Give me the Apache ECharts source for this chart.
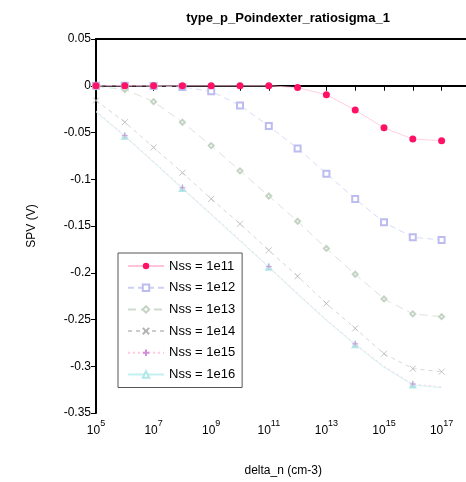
<!DOCTYPE html>
<html><head><meta charset="utf-8">
<script src="https://cdn.jsdelivr.net/npm/echarts@6/dist/echarts.min.js"></script>
<style>html,body{margin:0;padding:0;background:#fff}#c{width:466px;height:482px}</style>
</head><body><div id="c"></div>
<script>
var exponents = [5,6,7,8,9,10,11,12,13,14,15,16,17];
var seriesNames = ['Nss = 1e11','Nss = 1e12','Nss = 1e13','Nss = 1e14','Nss = 1e15','Nss = 1e16'];
var s1e11 = [0,0,0,0,0,0,0,-0.002,-0.0096,-0.026,-0.045,-0.057,-0.0587];
var s1e12 = [0,0,-0.0003,-0.0013,-0.006,-0.021,-0.043,-0.067,-0.094,-0.121,-0.146,-0.162,-0.165];
var s1e13 = [-0.0008,-0.004,-0.017,-0.039,-0.064,-0.091,-0.118,-0.145,-0.174,-0.2016,-0.228,-0.244,-0.247];
var s1e14 = [-0.0157,-0.039,-0.066,-0.093,-0.121,-0.1476,-0.176,-0.2037,-0.2329,-0.2595,-0.2866,-0.3026,-0.3058];
var s1e15 = [-0.027,-0.0533,-0.081,-0.109,-0.137,-0.165,-0.1934,-0.222,-0.250,-0.276,-0.300,-0.319,-0.322];
var s1e16 = [-0.028,-0.054,-0.082,-0.110,-0.138,-0.166,-0.194,-0.223,-0.251,-0.277,-0.301,-0.320,-0.323];
var yTicks = {min: -0.35, max: 0.05, step: 0.05};
var sparseMarkerIdx = [1,3,6,9,11];

var FONT = 'Liberation Sans, Arial, sans-serif';
function pts(arr, sparse) {
  return arr.map(function (v, i) {
    var item = {value: [Math.pow(10, exponents[i]), v]};
    if (sparse && sparseMarkerIdx.indexOf(i) < 0) item.symbol = 'none';
    return item;
  });
}
function mk(name, arr, opt) {
  return {
    name: name, type: 'line', data: pts(arr, opt.sparse),
    symbol: opt.symbol, symbolSize: opt.size, showSymbol: true,
    lineStyle: {color: opt.line, width: 0.8, type: opt.dash},
    itemStyle: opt.item,
    emphasis: {disabled: true}, animation: false, z: opt.z || 2
  };
}
var series = [
  mk(seriesNames[0], s1e11, {symbol: 'circle', size: 7, line: '#ffc4da', dash: 'solid', item: {color: '#ff1166'}, z: 5}),
  mk(seriesNames[1], s1e12, {symbol: 'emptyRect', size: 6, line: '#cfcff6', dash: [6,4], item: {color: '#bcbcf0', borderColor: '#bcbcf0', borderWidth: 0.8}}),
  mk(seriesNames[2], s1e13, {symbol: 'emptyDiamond', size: 5, line: '#d0dcd0', dash: [8,5], item: {color: '#c4d4c4', borderColor: '#c4d4c4', borderWidth: 0.8}}),
  mk(seriesNames[3], s1e14, {symbol: 'path://M0,0L10,10M10,0L0,10', size: 6, line: '#cccccc', dash: [4,4], item: {color: '#fff', borderColor: '#b4b4b4', borderWidth: 0.8}}),
  mk(seriesNames[4], s1e15, {symbol: 'path://M5,0L5,10M0,5L10,5', size: 6, line: '#ffc8dc', dash: [2,3], sparse: true, item: {color: '#fff', borderColor: '#d090d8', borderWidth: 0.8}, z: 3}),
  mk(seriesNames[5], s1e16, {symbol: 'emptyTriangle', size: 5, line: '#c4f0f0', dash: 'solid', sparse: true, item: {color: '#b0e8e8', borderColor: '#b0e8e8', borderWidth: 0.8}})
];

var chart = echarts.init(document.getElementById('c'), null, {renderer: 'canvas'});
chart.setOption({
  animation: false,
  backgroundColor: '#fff',
  title: {
    text: 'type_p_Poindexter_ratiosigma_1', left: 283, top: 7, textAlign: 'center',
    textStyle: {fontFamily: FONT, fontSize: 13, fontWeight: 'bold', color: '#000'}
  },
  grid: {left: 96, top: 39, width: 374.4, height: 374, outerBoundsMode: 'none', containLabel: false, show: false},
  legend: {
    orient: 'vertical', left: 118, top: 253,
    padding: [6, 7, 6, 9], itemGap: 7.7, itemWidth: 36, itemHeight: 8,
    borderColor: '#555', borderWidth: 1, backgroundColor: '#fff',
    textStyle: {fontFamily: FONT, fontSize: 13, color: '#000', lineHeight: 14},
    data: seriesNames, selectedMode: false
  },
  xAxis: [{
    type: 'log', logBase: 10, min: 1e5, max: 1e18, interval: 1,
    name: 'delta_n (cm-3)', nameLocation: 'middle', nameGap: 52,
    nameTextStyle: {fontFamily: FONT, fontSize: 12, color: '#000'},
    axisLine: {show: true, lineStyle: {color: '#000', width: 2}},
    axisTick: {show: true, inside: false, length: 5, lineStyle: {color: '#000', width: 1}},
    splitLine: {show: false}, minorTick: {show: false},
    axisLabel: {
      margin: 6, color: '#000', showMaxLabel: true, showMinLabel: true, hideOverlap: false,
      formatter: function (v) {
        var e = Math.round(Math.log(v) / Math.LN10);
        if ((e - 5) % 2 !== 0 || e > 17) return '';
        return '{b|10}{s|' + e + '}';
      },
      rich: {
        b: {fontFamily: FONT, fontSize: 12, color: '#000', lineHeight: 18, verticalAlign: 'bottom'},
        s: {fontFamily: FONT, fontSize: 9, color: '#000', lineHeight: 10, verticalAlign: 'top'}
      }
    }
  }, {
    type: 'value', position: 'top', min: 0, max: 1,
    axisLine: {show: true, onZero: false, lineStyle: {color: '#000', width: 2}},
    axisTick: {show: false}, axisLabel: {show: false}, splitLine: {show: false}
  }],
  yAxis: {
    type: 'value', min: yTicks.min, max: yTicks.max, interval: yTicks.step,
    name: 'SPV (V)', nameLocation: 'middle', nameGap: 58, nameRotate: 90,
    nameTextStyle: {fontFamily: FONT, fontSize: 12, color: '#000'},
    axisLine: {show: true, onZero: false, lineStyle: {color: '#000', width: 2}},
    axisTick: {show: true, inside: false, length: 5, lineStyle: {color: '#000', width: 1}},
    splitLine: {show: false},
    axisLabel: {
      margin: 5, color: '#000', fontFamily: FONT, fontSize: 12,
      formatter: function (v) { return String(Math.round(v * 100) / 100); }
    }
  },
  series: series
});
</script></body></html>
